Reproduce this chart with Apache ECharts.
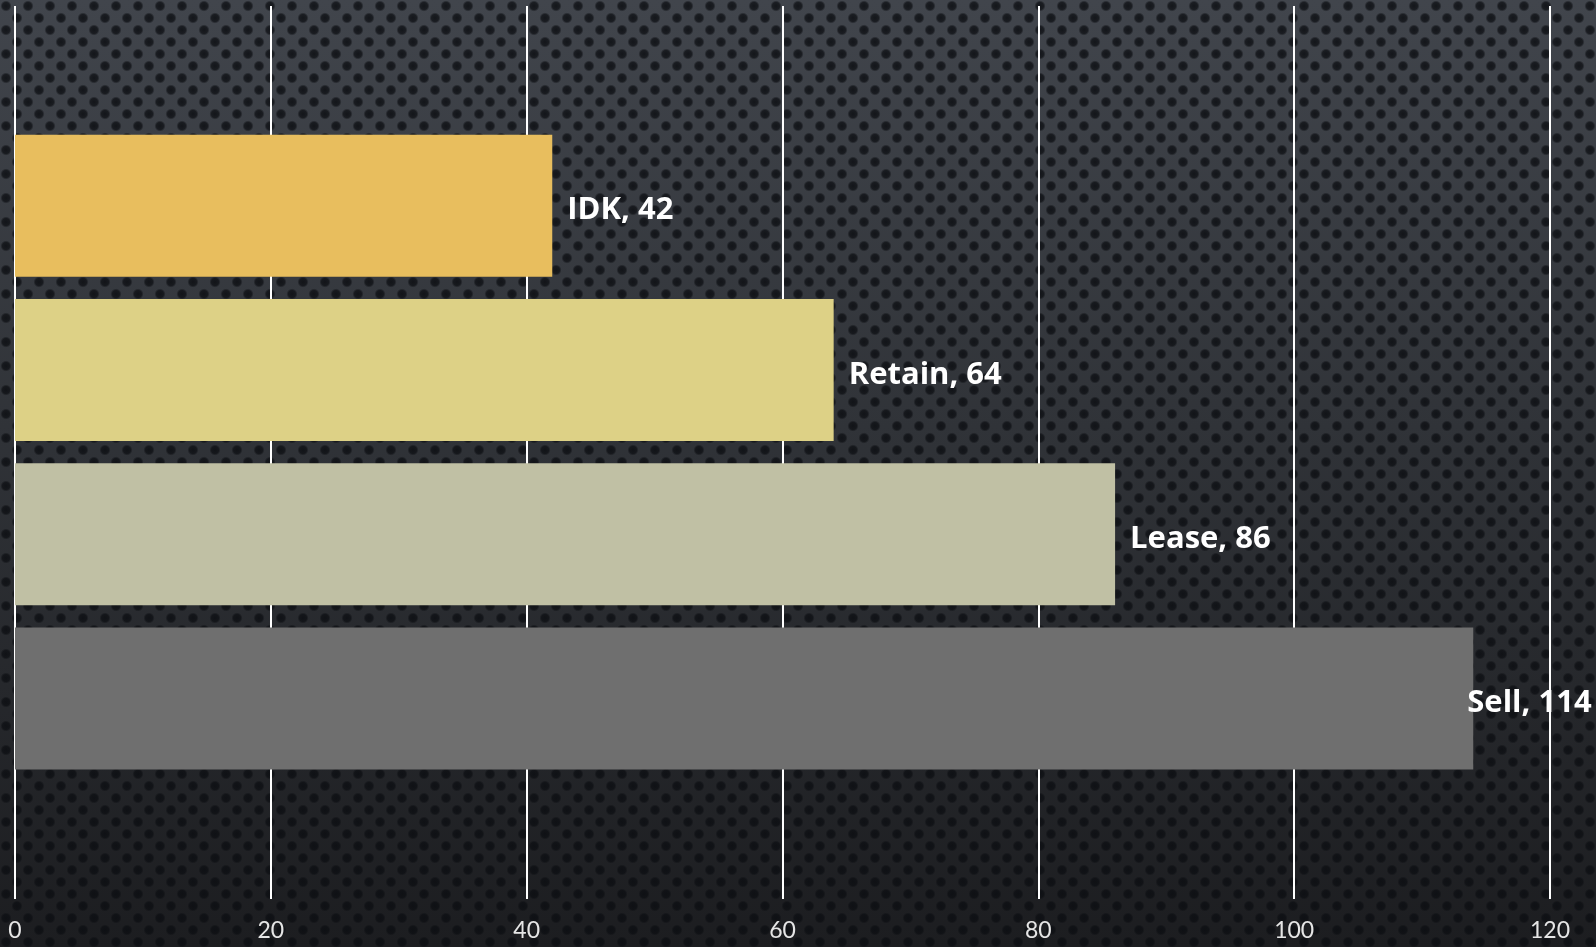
<!DOCTYPE html>
<html>
<head>
<meta charset="utf-8">
<script src="https://cdn.jsdelivr.net/npm/echarts@6/dist/echarts.min.js"></script>
<style>
  html, body { margin: 0; padding: 0; background: #26282c; }
  #chart { width: 1596px; height: 947px; }
</style>
</head>
<body>
<div id="chart"></div>
<script>
// Survey answers, top to bottom
const categories = ['IDK', 'Retain', 'Lease', 'Sell'];
const answerCounts = [42, 64, 86, 114];
const barColors = ['#E8BE5E', '#DDD186', '#C0C0A4', '#6F6F6F'];
const axisMin = 0;
const axisMax = 120;
const axisStep = 20;

const W = 1596, H = 947;

// Perforated-metal backdrop: dark vertical gradient with a staggered dot grid
function makeBackdrop() {
  const c = document.createElement('canvas');
  c.width = W; c.height = H;
  const ctx = c.getContext('2d');
  const g = ctx.createLinearGradient(0, 0, 0, H);
  g.addColorStop(0, '#41454c');
  g.addColorStop(0.45, '#303338');
  g.addColorStop(1, '#1c1d20');
  ctx.fillStyle = g;
  ctx.fillRect(0, 0, W, H);
  const stepX = 22, stepY = 12, r = 5.6;
  for (let row = 0; row * stepY < H + stepY; row++) {
    const y = row * stepY + 6;
    const shift = (row % 2) ? 11 : 0;
    for (let x = 6 + shift; x < W + stepX; x += stepX) {
      const rg = ctx.createRadialGradient(x, y, 0, x, y, r);
      rg.addColorStop(0, 'rgba(12,14,18,0.85)');
      rg.addColorStop(0.65, 'rgba(12,14,18,0.72)');
      rg.addColorStop(1, 'rgba(12,14,18,0)');
      ctx.fillStyle = rg;
      ctx.beginPath();
      ctx.arc(x, y, r, 0, Math.PI * 2);
      ctx.fill();
    }
  }
  return c;
}

const chart = echarts.init(document.getElementById('chart'), null, { renderer: 'canvas' });

const tickFont = "'Lato', 'DejaVu Sans', sans-serif";
const labelFont = "'Open Sans', 'DejaVu Sans', sans-serif";

chart.setOption({
  animation: false,
  backgroundColor: '#2a2c30',
  graphic: [{
    type: 'image',
    silent: true,
    z: -100,
    zlevel: 0,
    style: { image: makeBackdrop(), x: 0, y: 0, width: W, height: H }
  }],
  grid: [
    // grid carrying the value axis and its vertical gridlines
    { left: 15, right: 46, top: 6, bottom: 48 },
    // grid carrying the bars
    { left: 15, right: 46, top: 123.5, bottom: 166.5 }
  ],
  xAxis: [
    {
      gridIndex: 0,
      type: 'value',
      min: axisMin, max: axisMax, interval: axisStep,
      axisLine: { show: false },
      axisTick: { show: false },
      splitLine: { show: true, lineStyle: { color: '#ffffff', width: 2 } },
      axisLabel: {
        color: '#e6e6e6',
        fontFamily: tickFont,
        fontSize: 23,
        margin: 20
      }
    },
    {
      gridIndex: 1,
      type: 'value',
      min: axisMin, max: axisMax, interval: axisStep,
      show: false
    }
  ],
  yAxis: [
    { gridIndex: 0, type: 'value', show: false },
    {
      gridIndex: 1,
      type: 'category',
      data: categories,
      inverse: true,
      show: false
    }
  ],
  series: [{
    type: 'bar',
    xAxisIndex: 1,
    yAxisIndex: 1,
    barWidth: 142,
    data: answerCounts.map((v, i) => {
      const item = { value: v, itemStyle: { color: barColors[i] } };
      // the longest bar's label is pulled back so it stays inside the chart
      if (v === Math.max(...answerCounts)) item.label = { offset: [-21, 5] };
      return item;
    }),
    label: {
      show: true,
      position: 'right',
      distance: 15,
      offset: [0, 5],
      color: '#ffffff',
      fontFamily: labelFont,
      fontWeight: 'bold',
      fontSize: 31,
      formatter: p => p.name + ', ' + p.value
    }
  }]
});
</script>
</body>
</html>
